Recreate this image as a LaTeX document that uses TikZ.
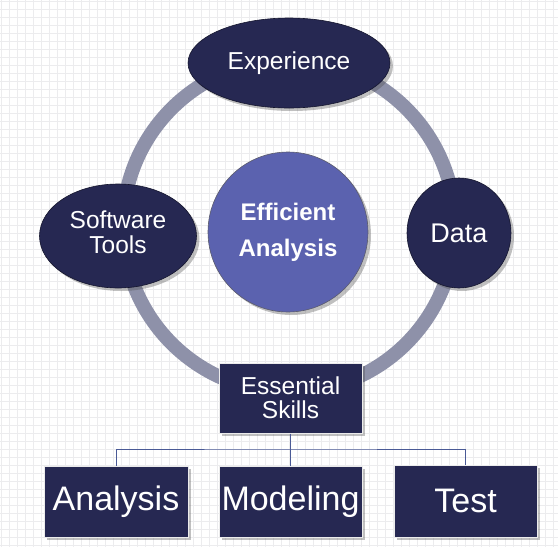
\documentclass[tikz,border=0pt]{standalone}
\usepackage{fontspec}
\setmainfont{Liberation Sans}
\usetikzlibrary{shapes.geometric,shadows}
\definecolor{navy}{HTML}{262852}
\definecolor{effblue}{HTML}{5B62AF}
\definecolor{ringcol}{HTML}{8E91A9}
\definecolor{gridcol}{HTML}{ECECEE}
\definecolor{linkcol}{HTML}{4A5A96}
\definecolor{edgecol}{HTML}{15162E}
\tikzset{
  shad/.style={drop shadow={shadow xshift=3pt,shadow yshift=-3pt,opacity=0.35,fill=black!70}},
  oval/.style={ellipse,fill=navy,draw=edgecol,line width=0.6pt,inner sep=0pt,text=white,align=center,shad,
    font=\fontsize{24.5}{25.5}\selectfont},
  box/.style={rectangle,fill=navy,draw=white!85!gray,line width=1pt,inner sep=0pt,text=white,align=center,shad},
  link/.style={draw=linkcol,line width=0.9pt}
}
\begin{document}
\begin{tikzpicture}[x=1pt,y=-1pt]
\useasboundingbox (0,0) rectangle (558,547);
\fill[white] (0,0) rectangle (558,547);
\foreach \g in {1,9,...,557} \draw[gridcol,line width=0.9pt] (\g,0) -- (\g,547);
\foreach \g in {1,9,...,545} \draw[gridcol,line width=0.9pt] (0,\g) -- (558,\g);
% ring
\draw[ringcol,line width=14pt] (289,226) circle[radius=166];
% nodes
\node[oval,minimum width=202pt,minimum height=90pt] (exp) at (289,63) {Experience};
\node[oval,minimum width=157pt,minimum height=104pt,text depth=8pt] (sw) at (118,236) {Software\\Tools};
\node[oval,minimum width=104pt,minimum height=110pt,font=\fontsize{27}{28}\selectfont] (data) at (459,233) {Data};
\node[circle,fill=effblue,draw=edgecol!70,line width=0.6pt,minimum size=160pt,inner sep=0pt,shad,text=white,align=center,
  font=\fontsize{24}{36}\selectfont\bfseries] (eff) at (288,232) {Efficient\\Analysis};
\node[box,minimum width=143pt,minimum height=70pt,font=\fontsize{24.5}{24}\selectfont] (ess) at (290.5,398) {Essential\\Skills};
\node[box,minimum width=144pt,minimum height=71pt,font=\fontsize{34}{36}\selectfont] (ana) at (116,501.5) {Analysis};
\node[box,minimum width=143pt,minimum height=71pt,font=\fontsize{34}{36}\selectfont] (mod) at (290.5,501.5) {Modeling};
\node[box,minimum width=143pt,minimum height=72pt,font=\fontsize{34}{36}\selectfont] (tst) at (465.5,501) {Test};
% connectors
\coordinate (bus) at (290.5,449);
\draw[link] (ess.south) -- (mod.north);
\draw[link] (ana.north) |- (bus) -| (tst.north);
\end{tikzpicture}
\end{document}
